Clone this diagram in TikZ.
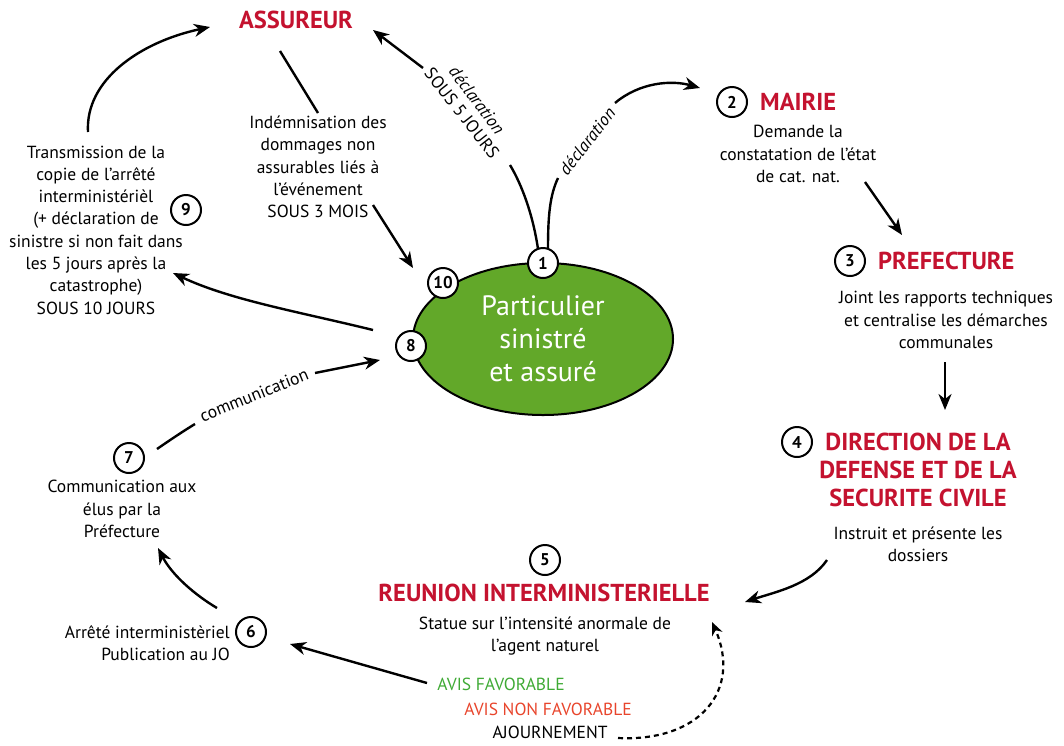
\documentclass[tikz,border=0pt]{standalone}
\usepackage{fontspec}
\setmainfont{PT Sans}
\usetikzlibrary{shapes.geometric,arrows.meta}
\definecolor{headred}{HTML}{C4122F}
\definecolor{ellgreen}{HTML}{62A829}
\definecolor{favgreen}{HTML}{3FAA35}
\definecolor{nonred}{HTML}{E8452C}
\tikzset{
 body/.style={align=center, font=\fontsize{17.5}{22.3}\selectfont, inner sep=0pt},
 head/.style={font=\fontsize{24.5}{28}\selectfont\bfseries, text=headred, align=center, inner sep=0pt},
 num/.style={circle, draw, line width=2pt, fill=white, minimum size=30pt, inner sep=0pt, font=\fontsize{17}{17}\selectfont\bfseries},
 arr/.style={line width=2.4pt, -{Stealth[length=16pt,width=13pt,inset=5pt]}},
 ln/.style={line width=2.4pt},
 dasharr/.style={line width=2.2pt, dash pattern=on 5pt off 4pt, -{Stealth[length=13pt,width=11pt,inset=4pt]}},
 lbl/.style={font=\fontsize{17.5}{20}\selectfont, inner sep=0pt}
}
\begin{document}
\begin{tikzpicture}[x=1pt,y=-1pt]
\useasboundingbox (0,0) rectangle (1064,745);

% central ellipse
\node[ellipse, draw, line width=2pt, fill=ellgreen, minimum width=260pt, minimum height=152pt,
      text=white, align=center, font=\fontsize{28}{33}\selectfont] (part) at (543,339)
      {Particulier\\sinistré\\et assuré};
\node[num] (n1) at (543,263) {1};
\node[num] (n10) at (443,283) {10};
\node[num] (n8) at (411,346) {8};

% headings
\node[head] (ass) at (296,20) {ASSUREUR};
\node[num] (n2) at (732,102) {2};
\node[head, anchor=west] (mairie) at (760,102) {MAIRIE};
\node[num] (n3) at (850,261) {3};
\node[head, anchor=west] (pref) at (878,261) {PREFECTURE};
\node[num] (n4) at (797,442) {4};
\node[head] (dir) at (918,470) {DIRECTION DE LA\\DEFENSE ET DE LA\\SECURITE CIVILE};
\node[num] (n5) at (545,560) {5};
\node[head] (reu) at (544,593) {REUNION INTERMINISTERIELLE};
\node[num] (n6) at (251,632) {6};
\node[num] (n7) at (129,458) {7};
\node[num] (n9) at (186,210) {9};

% body texts
\node[body] (indem) at (318,167) {Indémnisation des\\dommages non\\assurables liés à\\l’événement\\SOUS 3 MOIS};
\node[body] (trans) at (96,230) {Transmission de la\\copie de l’arrêté\\interministérièl\\(+ déclaration de\\sinistre si non fait dans\\les 5 jours après la\\catastrophe)\\SOUS 10 JOURS};
\node[body] (mairiet) at (798,154) {Demande la\\constatation de l’état\\de cat. nat.};
\node[body] (preft) at (946,320) {Joint les rapports techniques\\et centralise les démarches\\communales};
\node[body] (dirt) at (918,544) {Instruit et présente les\\dossiers};
\node[body] (reut) at (545,636) {Statue sur l’intensité anormale de\\l’agent naturel};
\node[body, align=right, anchor=east] (arrete) at (230,643) {Arrêté interministèriel\\Publication au JO};
\node[body] (comm) at (122,509) {Communication aux\\élus par la\\Préfecture};
\node[body, text=favgreen] (fav) at (501,684) {AVIS FAVORABLE};
\node[body, text=nonred] (nonfav) at (548,709) {AVIS NON FAVORABLE};
\node[body] (ajourn) at (550,732) {AJOURNEMENT};

% rotated labels
\node[lbl, rotate=-53, font=\fontsize{17.5}{20}\selectfont\itshape] (decl1) at (477,100) {déclaration};
\node[lbl, rotate=-52] (sous5) at (462,113) {SOUS 5 JOURS};
\node[lbl, rotate=52, font=\fontsize{17.5}{20}\selectfont\itshape] (decl2) at (587,141) {déclaration};
\node[lbl, rotate=22] (commlbl) at (254,395) {communication};

% free ends
\coordinate (a1s) at (538,249);
\coordinate (a1m) at (510,165);
\coordinate (a1n) at (423,68);
\coordinate (a1t) at (373,30);
\coordinate (a2s) at (548,248);
\coordinate (a2m) at (558,178);
\coordinate (a2n) at (615,103);
\coordinate (a2t) at (700,88);

% connectors
\draw[ln] (a1s) .. controls (533,215) and (522,185) .. (a1m);
\draw[arr] (a1n) -- (a1t);
\draw[ln] (a2s) .. controls (548,215) and (550,195) .. (a2m);
\draw[arr] (a2n) .. controls (640,82) and (672,80) .. (a2t);

\draw[arr] (865,182) -- (902,235);
\draw[arr] (945,362) -- (945,410);
\draw[arr] (827,560) .. controls (810,585) and (775,592) .. (745,602);
\draw[arr] (427,683) -- (290,644);
\draw[dasharr] (618,738) .. controls (700,742) and (742,690) .. (712,622);
\draw[arr] (217,608) .. controls (195,595) and (172,575) .. (158,548);
\draw[ln] (157,449) .. controls (170,440) and (185,430) .. (195,424);
\draw[arr] (315,373) -- (380,360);
\draw[arr] (373,330) .. controls (300,312) and (230,300) .. (173,273);
\draw[arr] (88,132) .. controls (85,80) and (140,42) .. (210,27);
\draw[ln] (280,51) -- (318,113);
\draw[arr] (373,205) -- (413,268);
\end{tikzpicture}
\end{document}
